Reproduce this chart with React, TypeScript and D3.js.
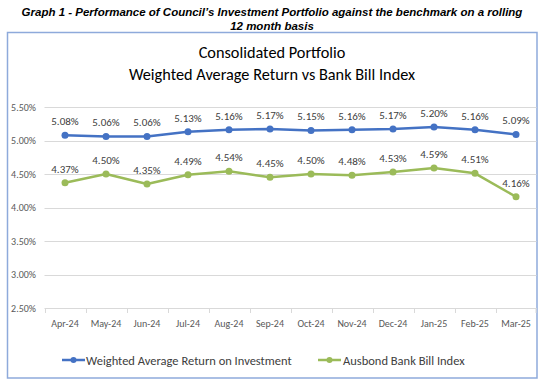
import React from "react";
import * as d3 from "d3";

const months = ["Apr-24","May-24","Jun-24","Jul-24","Aug-24","Sep-24","Oct-24","Nov-24","Dec-24","Jan-25","Feb-25","Mar-25"];
const weightedReturn = [5.08,5.06,5.06,5.13,5.16,5.17,5.15,5.16,5.17,5.20,5.16,5.09];
const bankBill = [4.37,4.50,4.35,4.49,4.54,4.45,4.50,4.48,4.53,4.59,4.51,4.16];
const yTicks = [2.5,3.0,3.5,4.0,4.5,5.0,5.5];
const seriesNames = ["Weighted Average Return on Investment","Ausbond Bank Bill Index"];
const colors = ["#4472C4","#9BBB59"];

export default function App() {
  const W = 544, H = 380;
  const left = 44.5, right = 536.5, top = 107, bottom = 308;
  const x = d3.scaleBand<string>().domain(months).range([left, right]);
  const y = d3.scaleLinear().domain([2.5, 5.5]).range([bottom, top]);
  const line = d3.line<number>().x((_, i) => x(months[i])! + x.bandwidth() / 2).y(d => y(d));
  const font = "Carlito, Lato, 'Open Sans', sans-serif";
  const series = [weightedReturn, bankBill];
  return (
    <svg width={W} height={H} style={{ position: "absolute", left: 0, top: 0, background: "#fff" }}>
      <text x={272} y={16} textAnchor="middle" fontFamily="'Liberation Sans', Arial, sans-serif" fontWeight="bold" fontStyle="italic" fontSize={11.5}>
        Graph 1 - Performance of Council’s Investment Portfolio against the benchmark on a rolling
      </text>
      <text x={272} y={30} textAnchor="middle" fontFamily="'Liberation Sans', Arial, sans-serif" fontWeight="bold" fontStyle="italic" fontSize={11.5}>
        12 month basis
      </text>
      <rect x={7.5} y={32.5} width={529.5} height={345.5} fill="#fff" stroke="#8EAADB" strokeWidth={1.5} />
      <text x={272} y={58} textAnchor="middle" fontFamily={font} fontSize={16.3} fill="#000">Consolidated Portfolio</text>
      <text x={272} y={80} textAnchor="middle" fontFamily={font} fontSize={16.3} fill="#000">Weighted Average Return vs Bank Bill Index</text>
      {yTicks.map(t => (
        <g key={t}>
          <line x1={left} x2={right} y1={Math.round(y(t)) + 0.5} y2={Math.round(y(t)) + 0.5} stroke="#D9D9D9" />
          <text x={36} y={y(t) + 3.5} textAnchor="end" fontFamily={font} fontSize={10} fill="#595959">{t.toFixed(2)}%</text>
        </g>
      ))}
      {months.map((m, i) => (
        <g key={m}>
          <line x1={Math.round(x(m)!) + 0.5} x2={Math.round(x(m)!) + 0.5} y1={bottom} y2={bottom + 5} stroke="#D9D9D9" />
          <text x={x(m)! + x.bandwidth() / 2} y={327} textAnchor="middle" fontFamily={font} fontSize={10} fill="#595959">{m}</text>
        </g>
      ))}
      <line x1={right - 0.5} x2={right - 0.5} y1={bottom} y2={bottom + 5} stroke="#D9D9D9" />
      {series.map((s, si) => (
        <g key={si}>
          <path d={line(s)!} fill="none" stroke={colors[si]} strokeWidth={2.5} strokeLinejoin="round" />
          {s.map((v, i) => (
            <g key={i}>
              <circle cx={x(months[i])! + x.bandwidth() / 2} cy={y(v)} r={3.5} fill={colors[si]} />
              <text x={x(months[i])! + x.bandwidth() / 2} y={y(v) - 10} textAnchor="middle" fontFamily={font} fontSize={11} fill="#404040">{v.toFixed(2)}%</text>
            </g>
          ))}
        </g>
      ))}
      {[[62, 86], [318, 343]].map(([lx, tx], si) => (
        <g key={si}>
          <line x1={lx} x2={lx + 23} y1={360} y2={360} stroke={colors[si]} strokeWidth={2.5} />
          <circle cx={lx + 11.5} cy={360} r={3} fill={colors[si]} />
          <text x={tx} y={364.5} fontFamily={font} fontSize={12.5} fill="#404040">{seriesNames[si]}</text>
        </g>
      ))}
    </svg>
  );
}
